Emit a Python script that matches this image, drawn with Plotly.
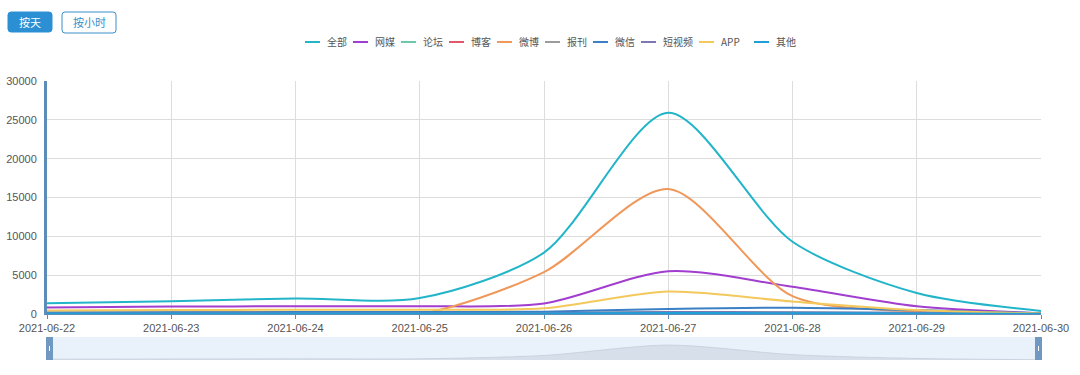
import plotly.graph_objects as go

dates = ["2021-06-22", "2021-06-23", "2021-06-24", "2021-06-25", "2021-06-26",
         "2021-06-27", "2021-06-28", "2021-06-29", "2021-06-30"]

series_names = ["全部", "网媒", "论坛", "博客", "微博", "报刊", "微信", "短视频", "APP", "其他"]
s_all = [1400, 1650, 2000, 2050, 7900, 25900, 9300, 2700, 400]
s_web = [850, 950, 1000, 1000, 1350, 5500, 3500, 1000, 100]
s_forum = [150, 150, 150, 150, 160, 250, 200, 120, 30]
s_blog = [60, 60, 60, 60, 70, 120, 100, 60, 10]
s_weibo = [150, 200, 250, 0, 5400, 16100, 2300, 300, 20]
s_paper = [80, 80, 80, 80, 90, 150, 120, 80, 20]
s_wechat = [200, 220, 250, 250, 300, 650, 800, 500, 100]
s_video = [100, 100, 100, 100, 120, 250, 220, 150, 30]
s_app = [450, 500, 550, 550, 750, 2900, 1600, 500, 50]
s_other = [50, 50, 50, 50, 60, 120, 100, 60, 10]
all_series = [s_all, s_web, s_forum, s_blog, s_weibo, s_paper, s_wechat, s_video, s_app, s_other]
colors = ["#22b5c9", "#a23ecf", "#6cc7ab", "#e0596b", "#f0985a", "#9c9c9c",
          "#3b7fc4", "#7c78b2", "#f3c85c", "#1e9fd8"]

y_ticks = [0, 5000, 10000, 15000, 20000, 25000, 30000]
y_ticktext = [str(v) for v in y_ticks]

# pixel layout helpers (plot area: x 47..1041, paper y spans 81..360)
L, R, T, B = 47, 1041, 81, 360


def px(x):
    return (x - L) / (R - L)


def py(y):
    return (B - y) / (B - T)


fig = go.Figure()
for i in range(len(series_names)):
    fig.add_trace(go.Scatter(
        x=dates, y=all_series[i], name=series_names[i], mode="lines",
        line=dict(color=colors[i], width=2, shape="spline", smoothing=0.8),
        xaxis="x", yaxis="y", showlegend=False))

# slider overview area
fig.add_trace(go.Scatter(
    x=dates, y=s_all, mode="lines", fill="tozeroy", showlegend=False,
    line=dict(color="rgba(200,210,222,0.9)", width=1, shape="spline", smoothing=0.8),
    fillcolor="rgba(205,215,226,0.7)", xaxis="x2", yaxis="y2", hoverinfo="skip"))

fig.update_layout(
    width=1080, height=375,
    margin=dict(l=L, r=1080 - R, t=T, b=375 - B, autoexpand=False),
    paper_bgcolor="white", plot_bgcolor="white",
    font=dict(family="Noto Sans CJK SC, Noto Sans, sans-serif", size=11, color="#555"),
    showlegend=False,
    xaxis=dict(type="date", range=[dates[0], dates[-1]], tickvals=dates, ticktext=dates,
               showgrid=True, gridcolor="#dcdcdc", gridwidth=1,
               showline=True, linecolor="#5b8db8", linewidth=1,
               ticks="outside", ticklen=4, tickcolor="#5b8db8",
               tickfont=dict(size=11, color="#555", family="Arial, Liberation Sans"),
               anchor="y", zeroline=False, automargin=False),
    yaxis=dict(domain=[py(314), 1], range=[0, 30000], tickvals=y_ticks, ticktext=y_ticktext,
               showgrid=True, gridcolor="#dcdcdc", gridwidth=1,
               showline=True, linecolor="#5b8db8", linewidth=3,
               zeroline=False, ticks="", ticklabelstandoff=5, automargin=False,
               tickfont=dict(size=11, color="#555", family="Arial, Liberation Sans")),
    xaxis2=dict(type="date", range=[dates[0], dates[-1]], anchor="y2", visible=False,
                showgrid=False, automargin=False),
    yaxis2=dict(domain=[0, py(337)], range=[0, 40000], showgrid=False, showticklabels=False,
                zeroline=False, showline=False, fixedrange=True, automargin=False,
                anchor="x2"),
)

# slider background and handles
fig.add_shape(type="rect", xref="paper", yref="paper", x0=0, x1=1, y0=0, y1=py(337),
              fillcolor="rgba(226,238,250,0.75)", line=dict(width=0), layer="below")
for hx0 in [46, 1035]:
    fig.add_shape(type="rect", xref="paper", yref="paper", x0=px(hx0), x1=px(hx0 + 7),
                  y0=0, y1=py(337), fillcolor="#7198c0", line=dict(width=0))
    fig.add_shape(type="line", xref="paper", yref="paper", x0=px(hx0 + 3.5), x1=px(hx0 + 3.5),
                  y0=py(351), y1=py(346), line=dict(color="white", width=1))


def rounded_rect(x0, y0, x1, y1, r=3):
    pts = [
        f"M {px(x0 + r)},{py(y0)}", f"L {px(x1 - r)},{py(y0)}",
        f"Q {px(x1)},{py(y0)} {px(x1)},{py(y0 + r)}", f"L {px(x1)},{py(y1 - r)}",
        f"Q {px(x1)},{py(y1)} {px(x1 - r)},{py(y1)}", f"L {px(x0 + r)},{py(y1)}",
        f"Q {px(x0)},{py(y1)} {px(x0)},{py(y1 - r)}", f"L {px(x0)},{py(y0 + r)}",
        f"Q {px(x0)},{py(y0)} {px(x0 + r)},{py(y0)}", "Z"]
    return " ".join(pts)


btn_color = "#2b8fd3"
fig.add_shape(type="path", xref="paper", yref="paper", path=rounded_rect(8, 12, 52, 32),
              fillcolor=btn_color, line=dict(color=btn_color, width=1))
fig.add_shape(type="path", xref="paper", yref="paper", path=rounded_rect(62, 12, 116, 33),
              fillcolor="white", line=dict(color="#3a8fc8", width=1))
fig.add_annotation(text="按天", xref="paper", yref="paper", x=px(30), y=py(22),
                   xanchor="center", yanchor="middle", showarrow=False,
                   font=dict(color="white", size=11))
fig.add_annotation(text="按小时", xref="paper", yref="paper", x=px(89), y=py(22.5),
                   xanchor="center", yanchor="middle", showarrow=False,
                   font=dict(color="#3a8fc8", size=11))

# custom compact legend
text_widths = [20, 20, 20, 20, 20, 20, 20, 30, 27, 20]
lx = 305
ly = 42
for name, col, tw in zip(series_names, colors, text_widths):
    fig.add_shape(type="line", xref="paper", yref="paper", x0=px(lx), x1=px(lx + 15),
                  y0=py(ly), y1=py(ly), line=dict(color=col, width=2))
    fig.add_annotation(text=name, xref="paper", yref="paper", x=px(lx + 20), y=py(ly),
                       xanchor="left", yanchor="middle", showarrow=False,
                       font=dict(color="#555", size=10))
    lx += 20 + tw + 8

fig.write_html("out.html", config={"displayModeBar": False},
               post_script="document.body.style.margin='0';")
